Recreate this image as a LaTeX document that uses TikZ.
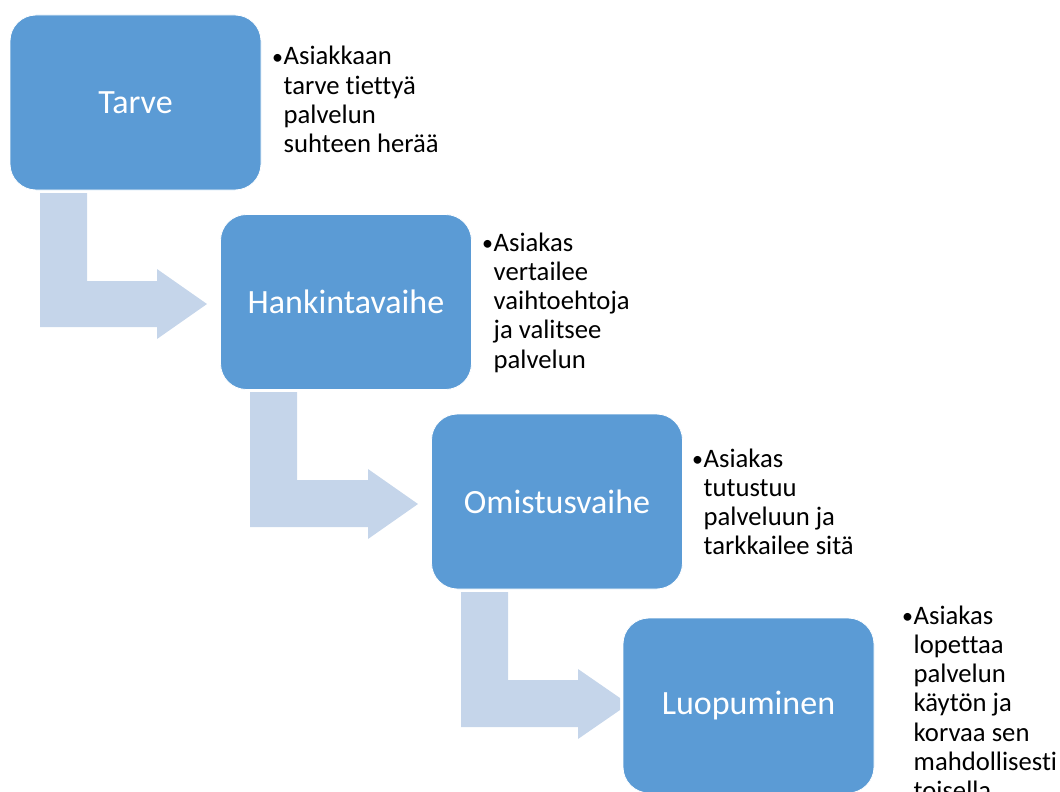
\documentclass[tikz,border=0pt]{standalone}
\usepackage{fontspec}
\setmainfont{Carlito}[Ligatures={NoCommon}]
\definecolor{boxblue}{HTML}{5B9BD5}
\definecolor{arrowblue}{HTML}{C5D5EA}
\begin{document}
\begin{tikzpicture}[x=1pt,y=-1pt,
  stage/.style={draw=white, line width=0.8pt, fill=boxblue, rounded corners=26pt,
    minimum width=251pt, minimum height=175pt, inner sep=0pt, text=white,
    font=\fontsize{34}{40}\selectfont},
  note/.style={anchor=base west, inner sep=0pt, align=left,
    font=\fontsize{26.67}{29.3}\selectfont},
  blk/.style={fill=arrowblue, draw=none}]
\useasboundingbox (0,0) rectangle (1060,792);
% block arrows (behind the boxes)
\fill[blk] (40,193) -- (87,193) -- (87,281) -- (157,281) -- (157,269) -- (207,304)
  -- (157,339) -- (157,327) -- (40,327) -- cycle;
\fill[blk] (250,392) -- (297,392) -- (297,480) -- (368,480) -- (368,469) -- (418,504)
  -- (368,539) -- (368,527) -- (250,527) -- cycle;
\fill[blk] (461,592) -- (508,592) -- (508,680) -- (578,680) -- (578,669) -- (620,698)
  -- (620,710) -- (578,739) -- (578,727) -- (461,727) -- cycle;
% stages
\node[stage] (s1) at (135.5,102.5) {Tarve};
\node[stage] (s2) at (346,302) {Hankintavaihe};
\node[stage] (s3) at (557,501.5) {Omistusvaihe};
\node[stage] (s4) at (748.5,705.5) {Luopuminen};
% notes
\newcommand\blt{\makebox[11.5pt][l]{\raisebox{0.5pt}{\fontsize{22}{22}\selectfont •}}}
\node[note] (n1) at (272,65) {\blt\parbox[t]{200pt}{Asiakkaan\\tarve tiettyä\\palvelun\\suhteen herää}};
\node[note] (n2) at (482,251) {\blt\parbox[t]{200pt}{Asiakas\\vertailee\\vaihtoehtoja\\ja valitsee\\palvelun}};
\node[note] (n3) at (692,467) {\blt\parbox[t]{200pt}{Asiakas\\tutustuu\\palveluun ja\\tarkkailee sitä}};
\node[note] (n4) at (902,624) {\blt\parbox[t]{200pt}{Asiakas\\lopettaa\\palvelun\\käytön ja\\korvaa sen\\mahdollisesti\\toisella}};
\end{tikzpicture}
\end{document}
